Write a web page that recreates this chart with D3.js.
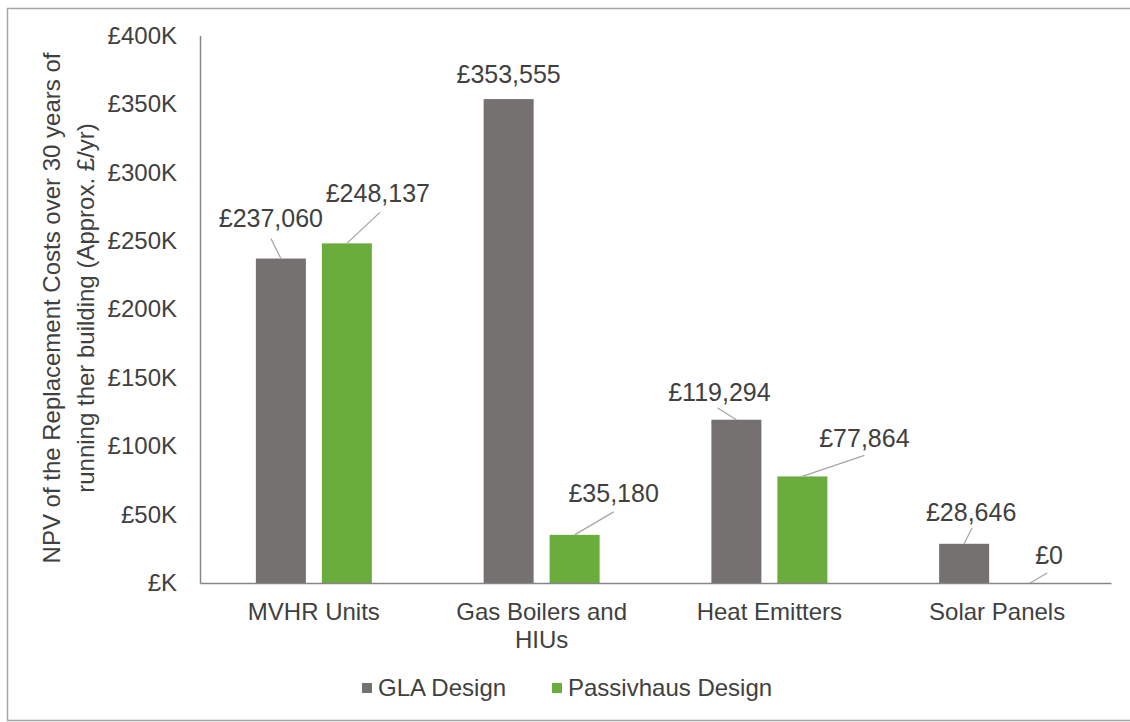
<!DOCTYPE html>
<html>
<head>
<meta charset="utf-8">
<script src="https://cdn.jsdelivr.net/npm/d3@7"></script>
<style>
  body { margin: 0; background: #fff; }
  text { font-family: "Liberation Sans", Arial, sans-serif; fill: #404040; }
</style>
</head>
<body>
<script>
// data
var categories = ["MVHR Units", "Gas Boilers and HIUs", "Heat Emitters", "Solar Panels"];
var seriesNames = ["GLA Design", "Passivhaus Design"];
var glaValues = [237060, 353555, 119294, 28646];
var passivValues = [248137, 35180, 77864, 0];
var yTicks = [0, 50000, 100000, 150000, 200000, 250000, 300000, 350000, 400000];
var yTickLabels = ["£K", "£50K", "£100K", "£150K", "£200K", "£250K", "£300K", "£350K", "£400K"];
var categoryLines = [["MVHR Units"], ["Gas Boilers and", "HIUs"], ["Heat Emitters"], ["Solar Panels"]];
var yTitleLines = ["NPV of the Replacement Costs over 30 years of", "running ther building (Approx. £/yr)"];

// layout for data labels: [label dx, label dy, leader start dx, leader start dy] from bar top centre
var labelPos = [
  [[-10, -40, -10, -20], [31, -50, 33, -31]],
  [[0, -25, null, null], [39, -42, 39, -23]],
  [[-17, -27, -19, -12], [62, -38, 62, -21]],
  [[7, -32, 8, -16], [19, -28, 17, -10]]
];

var colors = ["#767171", "#6aad3d"];
var W = 1130, H = 722;
var plotLeft = 200, plotRight = 1111, plotTop = 35.5, plotBottom = 583;

var svg = d3.select("body").append("svg")
    .attr("width", W)
    .attr("height", H);

// outer frame
svg.append("rect")
    .attr("x", 7.5).attr("y", 8.5)
    .attr("width", W + 10).attr("height", 712)
    .attr("fill", "none")
    .attr("stroke", "#a6a6a6")
    .attr("stroke-width", 1.5);

var x0 = d3.scaleBand().domain(categories).range([plotLeft, plotRight]);
var y = d3.scaleLinear().domain([0, 400000]).range([plotBottom, plotTop]);

// bars inside each group, 116px wide
var groupW = 116;
var x1 = d3.scaleBand().domain(seriesNames).range([0, groupW]).paddingInner(0.242);

var rows = categories.map(function(c, i) {
  return { cat: c, i: i, vals: [glaValues[i], passivValues[i]] };
});

var g = svg.selectAll(".group")
    .data(rows)
  .enter().append("g")
    .attr("class", "group")
    .attr("transform", function(d) {
      return "translate(" + (x0(d.cat) + x0.bandwidth() / 2 - groupW / 2) + ",0)";
    });

g.selectAll("rect")
    .data(function(d) { return d.vals.map(function(v, j) { return { v: v, j: j, i: d.i }; }); })
  .enter().append("rect")
    .attr("x", function(d) { return x1(seriesNames[d.j]); })
    .attr("width", x1.bandwidth())
    .attr("y", function(d) { return y(d.v); })
    .attr("height", function(d) { return plotBottom - y(d.v); })
    .attr("fill", function(d) { return colors[d.j]; });

// data labels with leader lines
g.each(function(row) {
  var grp = d3.select(this);
  row.vals.forEach(function(v, j) {
    var cx = x1(seriesNames[j]) + x1.bandwidth() / 2;
    var cy = y(v);
    var p = labelPos[row.i][j];
    if (p[2] !== null) {
      grp.append("line")
          .attr("x1", cx + p[2]).attr("y1", cy + p[3])
          .attr("x2", cx).attr("y2", cy)
          .attr("stroke", "#a6a6a6")
          .attr("stroke-width", 1.3);
    }
    grp.append("text")
        .attr("x", cx + p[0])
        .attr("y", cy + p[1])
        .attr("dy", "0.35em")
        .attr("text-anchor", "middle")
        .style("font-size", "25px")
        .text("£" + d3.format(",")(v));
  });
});

// y axis
var yAxis = svg.append("g")
    .attr("transform", "translate(" + plotLeft + ",0)")
    .call(d3.axisLeft(y).tickValues(yTicks).tickSize(0).tickPadding(23)
      .tickFormat(function(d, i) { return yTickLabels[i]; }));
yAxis.select(".domain").attr("stroke", "#868686").attr("stroke-width", 1.5);
yAxis.selectAll("text").style("font-size", "24px").attr("fill", "#404040")
    .style("font-family", "'Liberation Sans', Arial, sans-serif");

// x axis
var xAxis = svg.append("g")
    .attr("transform", "translate(0," + plotBottom + ")")
    .call(d3.axisBottom(x0).tickSize(0).tickFormat(""));
xAxis.select(".domain").attr("stroke", "#868686").attr("stroke-width", 1.5);

categories.forEach(function(c, i) {
  var t = svg.append("text")
      .attr("x", x0(c) + x0.bandwidth() / 2)
      .attr("y", 612)
      .attr("text-anchor", "middle")
      .style("font-size", "24px");
  categoryLines[i].forEach(function(line, k) {
    t.append("tspan")
        .attr("x", x0(c) + x0.bandwidth() / 2)
        .attr("dy", k === 0 ? "0.35em" : "28px")
        .text(line);
  });
});

// y axis title
var title = svg.append("text")
    .attr("transform", "translate(52,308) rotate(-90)")
    .attr("text-anchor", "middle")
    .style("font-size", "24px");
yTitleLines.forEach(function(line, k) {
  title.append("tspan")
      .attr("x", 0)
      .attr("dy", k === 0 ? "0.35em" : "34px")
      .text(line);
});

// legend
var legendX = [362, 552];
seriesNames.forEach(function(name, j) {
  svg.append("rect")
      .attr("x", legendX[j]).attr("y", 683)
      .attr("width", 10).attr("height", 10)
      .attr("fill", colors[j]);
  svg.append("text")
      .attr("x", legendX[j] + 16)
      .attr("y", 688)
      .attr("dy", "0.35em")
      .style("font-size", "24px")
      .text(name);
});
</script>
</body>
</html>
